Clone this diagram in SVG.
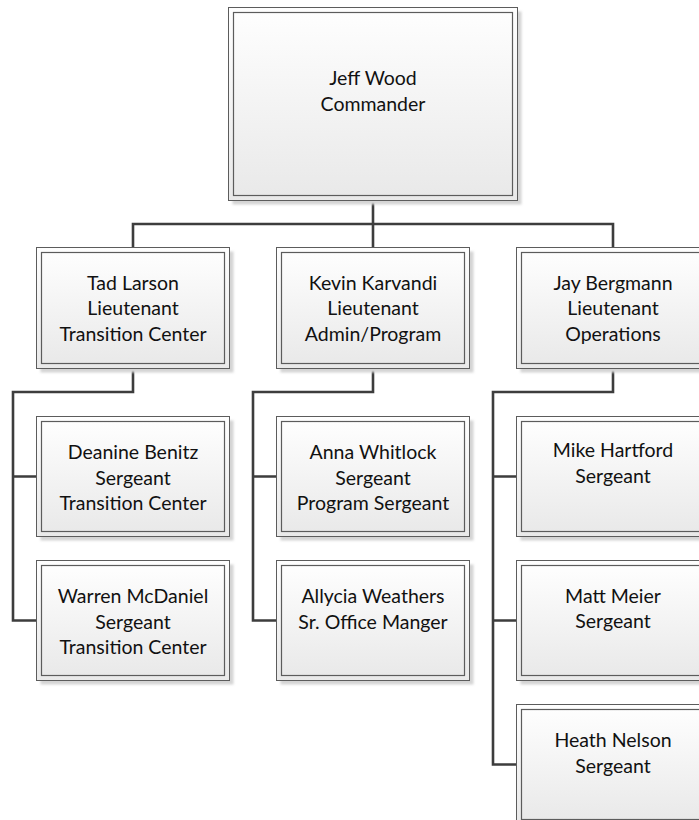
<svg xmlns="http://www.w3.org/2000/svg" width="699" height="820" viewBox="0 0 699 820">
  <defs>
    <linearGradient id="fill" x1="0" y1="0" x2="0" y2="1">
      <stop offset="0" stop-color="#fefefe"/>
      <stop offset="1" stop-color="#e9e9e9"/>
    </linearGradient>
    <filter id="blur" x="-5%" y="-5%" width="110%" height="110%">
      <feGaussianBlur stdDeviation="0.8"/>
    </filter>
  </defs>
  <style>
    .shadow { fill: #d4d4d4; filter: url(#blur); }
    .outer { fill: url(#fill); stroke: #5c5c5c; stroke-width: 1; }
    .inner { fill: url(#fill); stroke: #5c5c5c; stroke-width: 1.2; }
    .conn { fill: none; stroke: #3d3d3d; stroke-width: 2.6; stroke-linejoin: miter; }
    text { font-family: Lato, "Open Sans", "Liberation Sans", sans-serif; font-size: 19.5px; fill: #111; text-anchor: middle; }
  </style>
  <rect width="699" height="820" fill="#ffffff"/>

  <g id="connectors">
    <path class="conn" d="M373 200.5 V248 M133 248 V224 H613 V248"/>
    <path class="conn" d="M133 368 V392 H13 V620.5 H37 M13 476.5 H37"/>
    <path class="conn" d="M373 368 V392 H253 V620.5 H277 M253 476.5 H277"/>
    <path class="conn" d="M613 368 V392 H493 V764.5 H517 M493 476.5 H517 M493 620.5 H517"/>
  </g>

  <g id="jeff-wood">
    <rect class="shadow" x="232.5" y="11.5" width="289" height="193"/>
    <rect class="outer" x="228.5" y="7.5" width="289" height="193"/>
    <rect class="inner" x="233.5" y="12.5" width="279" height="183"/>
    <text x="373" y="85">Jeff Wood</text>
    <text x="373" y="110.5">Commander</text>
  </g>

  <g id="tad-larson">
    <rect class="shadow" x="40.5" y="251.5" width="193" height="121"/>
    <rect class="outer" x="36.5" y="247.5" width="193" height="121"/>
    <rect class="inner" x="41.5" y="252.5" width="183" height="111"/>
    <text x="133" y="289.5">Tad Larson</text>
    <text x="133" y="315">Lieutenant</text>
    <text x="133" y="340.5">Transition Center</text>
  </g>

  <g id="kevin-karvandi">
    <rect class="shadow" x="280.5" y="251.5" width="193" height="121"/>
    <rect class="outer" x="276.5" y="247.5" width="193" height="121"/>
    <rect class="inner" x="281.5" y="252.5" width="183" height="111"/>
    <text x="373" y="289.5">Kevin Karvandi</text>
    <text x="373" y="315">Lieutenant</text>
    <text x="373" y="340.5">Admin/Program</text>
  </g>

  <g id="jay-bergmann">
    <rect class="shadow" x="520.5" y="251.5" width="193" height="121"/>
    <rect class="outer" x="516.5" y="247.5" width="193" height="121"/>
    <rect class="inner" x="521.5" y="252.5" width="183" height="111"/>
    <text x="613" y="289.5">Jay Bergmann</text>
    <text x="613" y="315">Lieutenant</text>
    <text x="613" y="340.5">Operations</text>
  </g>

  <g id="deanine-benitz">
    <rect class="shadow" x="40.5" y="420.5" width="193" height="120"/>
    <rect class="outer" x="36.5" y="416.5" width="193" height="120"/>
    <rect class="inner" x="41.5" y="421.5" width="183" height="110"/>
    <text x="133" y="459">Deanine Benitz</text>
    <text x="133" y="484.5">Sergeant</text>
    <text x="133" y="510">Transition Center</text>
  </g>

  <g id="warren-mcdaniel">
    <rect class="shadow" x="40.5" y="564.5" width="193" height="120"/>
    <rect class="outer" x="36.5" y="560.5" width="193" height="120"/>
    <rect class="inner" x="41.5" y="565.5" width="183" height="110"/>
    <text x="133" y="603">Warren McDaniel</text>
    <text x="133" y="628.5">Sergeant</text>
    <text x="133" y="654">Transition Center</text>
  </g>

  <g id="anna-whitlock">
    <rect class="shadow" x="280.5" y="420.5" width="193" height="120"/>
    <rect class="outer" x="276.5" y="416.5" width="193" height="120"/>
    <rect class="inner" x="281.5" y="421.5" width="183" height="110"/>
    <text x="373" y="459">Anna Whitlock</text>
    <text x="373" y="484.5">Sergeant</text>
    <text x="373" y="510">Program Sergeant</text>
  </g>

  <g id="allycia-weathers">
    <rect class="shadow" x="280.5" y="564.5" width="193" height="120"/>
    <rect class="outer" x="276.5" y="560.5" width="193" height="120"/>
    <rect class="inner" x="281.5" y="565.5" width="183" height="110"/>
    <text x="373" y="603">Allycia Weathers</text>
    <text x="373" y="628.5">Sr. Office Manger</text>
  </g>

  <g id="mike-hartford">
    <rect class="shadow" x="520.5" y="420.5" width="193" height="120"/>
    <rect class="outer" x="516.5" y="416.5" width="193" height="120"/>
    <rect class="inner" x="521.5" y="421.5" width="183" height="110"/>
    <text x="613" y="457">Mike Hartford</text>
    <text x="613" y="482.5">Sergeant</text>
  </g>

  <g id="matt-meier">
    <rect class="shadow" x="520.5" y="564.5" width="193" height="120"/>
    <rect class="outer" x="516.5" y="560.5" width="193" height="120"/>
    <rect class="inner" x="521.5" y="565.5" width="183" height="110"/>
    <text x="613" y="602.5">Matt Meier</text>
    <text x="613" y="628">Sergeant</text>
  </g>

  <g id="heath-nelson">
    <rect class="shadow" x="520.5" y="708.5" width="193" height="120"/>
    <rect class="outer" x="516.5" y="704.5" width="193" height="120"/>
    <rect class="inner" x="521.5" y="709.5" width="183" height="110"/>
    <text x="613" y="747">Heath Nelson</text>
    <text x="613" y="772.5">Sergeant</text>
  </g>
</svg>
